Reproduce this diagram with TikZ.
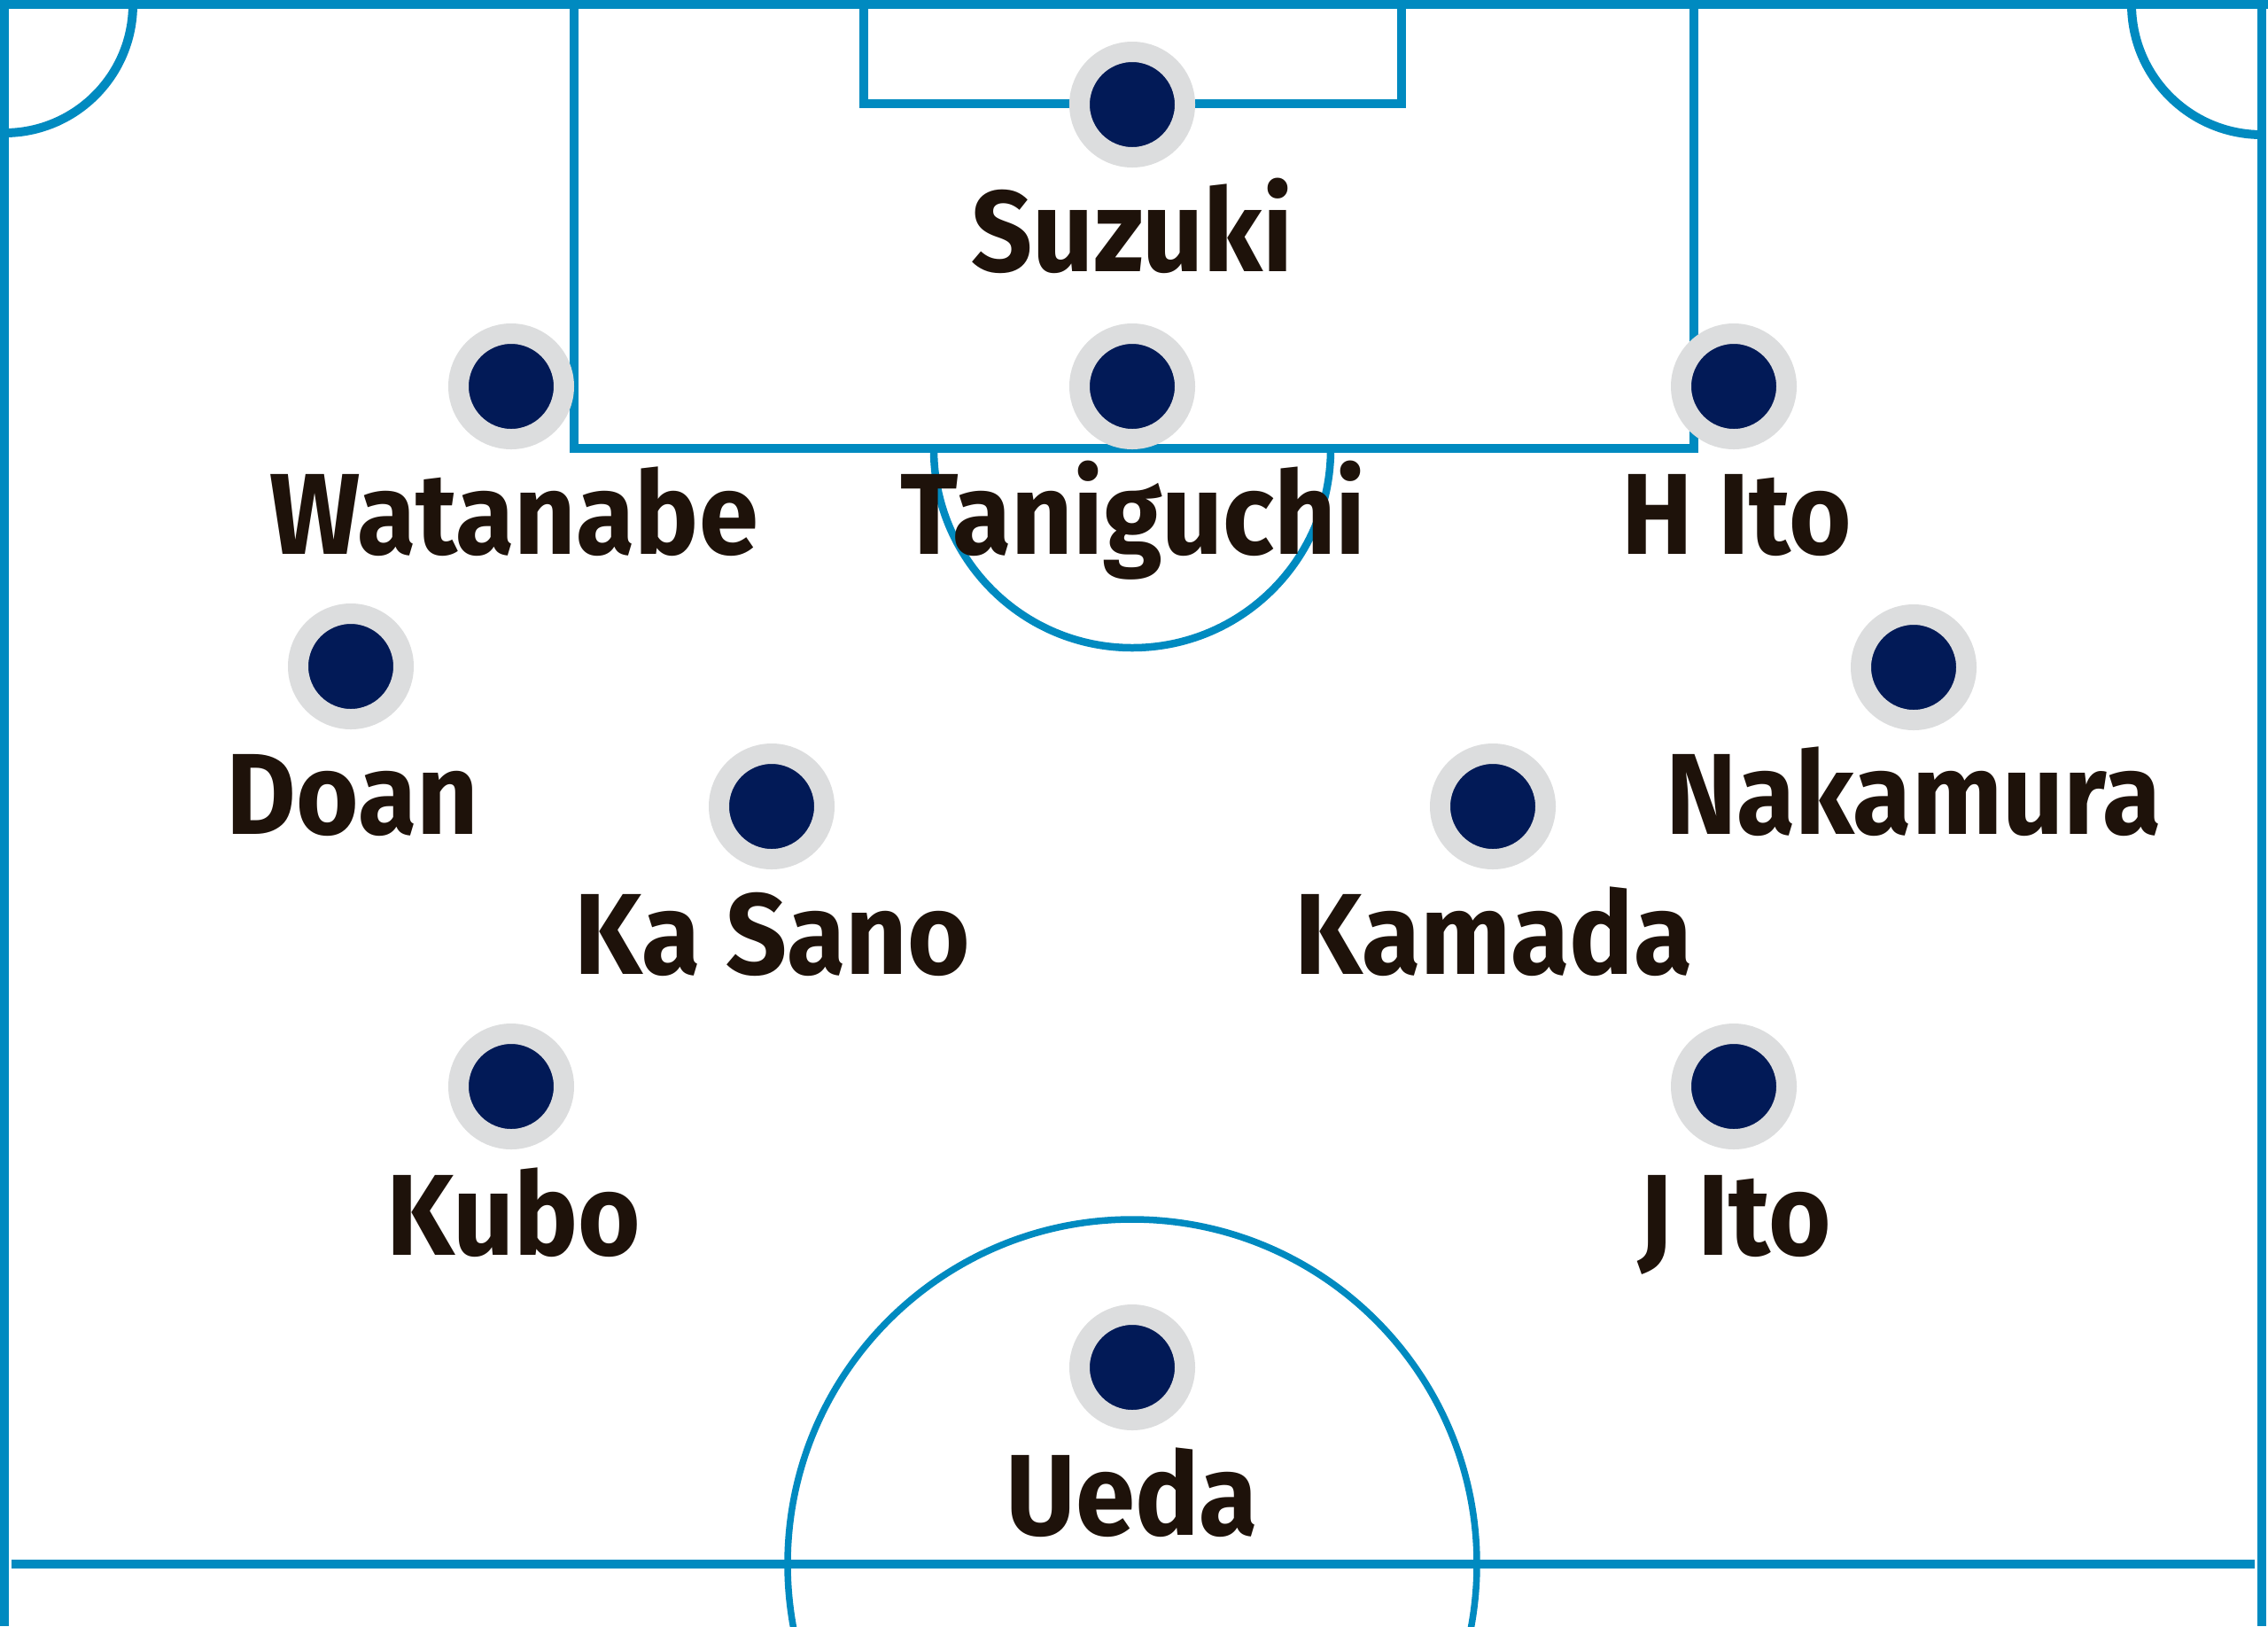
\documentclass[tikz,border=0pt]{standalone}
\usepackage{fontspec}
\newfontfamily\namefont{Fira Sans}[FakeStretch=0.93]
\definecolor{pitchblue}{RGB}{0,138,192}
\definecolor{shirtnavy}{RGB}{2,26,87}
\definecolor{ringgray}{RGB}{220,221,222}
\definecolor{namecol}{RGB}{30,18,10}
\begin{document}
\begin{tikzpicture}[pitch/.style={draw=pitchblue,line width=0.1cm},
 player/.style={circle,inner sep=0,minimum size=1.19cm,draw=ringgray,line width=0.23cm,fill=shirtnavy},
 plabel/.style={anchor=base,inner sep=0,text=namecol,font=\namefont\bfseries\fontsize{37}{40}\selectfont}]
 \useasboundingbox (0,0) rectangle (25.6,-18.35);
 \clip (0,0) rectangle (25.6,-18.35);
 \fill[white](0,0) rectangle (25.6,-18.35);
 % pitch
 \draw[pitch](0.05,0)--(0.05,-18.35);
 \draw[pitch](0,-0.05)--(25.6,-0.05);
 \draw[pitch](25.53,0)--(25.53,-18.35);
 \draw[pitch](0.13,-17.65)--(25.45,-17.65);
 \draw[pitch](1.50,-0.05) arc (0:-90:1.45);
 \draw[pitch](24.06,-0.05) arc (180:270:1.47);
 \draw[pitch](6.48,-0.05) rectangle (19.12,-5.06);
 \draw[pitch](9.75,-0.05) rectangle (15.82,-1.17);
 \draw[pitch,line width=0.085cm](10.54,-5.07) arc (180:360:2.24);
 \draw[pitch,line width=0.075cm](12.78,-17.65) circle (3.89);
 % players
 \node[player] (pSuzuki) at (12.78,-1.18) {};
 \node[player] (pWatanabe) at (5.77,-4.36) {};
 \node[player] (pTaniguchi) at (12.78,-4.36) {};
 \node[player] (pHIto) at (19.57,-4.36) {};
 \node[player] (pDoan) at (3.96,-7.52) {};
 \node[player] (pNakamura) at (21.60,-7.53) {};
 \node[player] (pKaSano) at (8.71,-9.10) {};
 \node[player] (pKamada) at (16.85,-9.10) {};
 \node[player] (pKubo) at (5.77,-12.26) {};
 \node[player] (pJIto) at (19.57,-12.26) {};
 \node[player] (pUeda) at (12.78,-15.43) {};
 % names
 \node[plabel] (nSuzuki) at (12.78,-3.06) {Suzuki};
 \node[plabel] (nWatanabe) at (5.80,-6.25) {Watanabe};
 \node[plabel] (nTaniguchi) at (12.79,-6.25) {Taniguchi};
 \node[plabel] (nHIto) at (19.60,-6.25) {H Ito};
 \node[plabel] (nDoan) at (3.98,-9.41) {Doan};
 \node[plabel] (nNakamura) at (21.60,-9.41) {Nakamura};
 \node[plabel] (nKaSano) at (8.72,-10.99) {Ka Sano};
 \node[plabel] (nKamada) at (16.86,-10.99) {Kamada};
 \node[plabel] (nKubo) at (5.80,-14.16) {Kubo};
 \node[plabel] (nJIto) at (19.58,-14.16) {J Ito};
 \node[plabel] (nUeda) at (12.78,-17.32) {Ueda};
\end{tikzpicture}
\end{document}
